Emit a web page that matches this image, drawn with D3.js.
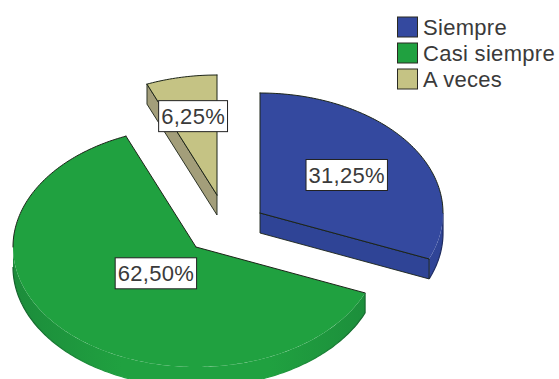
<!DOCTYPE html>
<html>
<head>
<meta charset="utf-8">
<script src="https://cdn.jsdelivr.net/npm/d3@7"></script>
<style>
  html, body { margin: 0; padding: 0; background: #fff; }
  svg { display: block; }
  text { font-family: "Liberation Sans", Arial, sans-serif; fill: #3a3a3a; letter-spacing: 0.3px; }
</style>
</head>
<body>
<svg id="chart" width="559" height="379"></svg>
<script>
// Survey answers and their shares, in percent
const categories = ["Siempre", "Casi siempre", "A veces"];
const shares = [31.25, 62.5, 6.25];
const shareLabels = ["31,25%", "62,50%", "6,25%"];

const topColors = ["#34499f", "#20a140", "#c5c384"];
const sideColors = ["#2f4496", "#1c8c3b", "#a39e7a"];
const rimEdgeColors = ["#1d2a5e", "#14602c", "#5a5640"];
const edgeColor = "#1c2418";

// Projection of the tilted disc
const radiusX = 183, radiusY = 120, depth = 20;

// Apex of each exploded slice
const apexX = [260, 196, 217];
const apexY = [213, 247, 195];
const labelRadius = [0.57, 0.31, 0.67];

const svg = d3.select("#chart");
const defs = svg.append("defs");

const unitX = d3.scaleLinear().domain([-1, 1]).range([-radiusX, radiusX]);
const unitY = d3.scaleLinear().domain([-1, 1]).range([-radiusY, radiusY]);

const slices = d3.pie().sort(null).value(d => d)(shares);
const line = d3.line();

// Project an angle (clockwise from twelve o'clock) onto the disc of slice i
const rimPoint = (i, angle, drop = 0) => [
  apexX[i] + unitX(Math.sin(angle)),
  apexY[i] + unitY(-Math.cos(angle)) + drop
];
const arcAngles = (a, b) => {
  const n = Math.max(2, Math.ceil((b - a) * 60));
  return d3.range(n + 1).map(k => a + (b - a) * k / n);
};

// Horizontal shading: the rim darkens towards both sides of the disc
const rimGradient = (id, i, outer) => {
  const grad = defs.append("linearGradient")
    .attr("id", id)
    .attr("gradientUnits", "userSpaceOnUse")
    .attr("x1", apexX[i] - radiusX).attr("y1", 0)
    .attr("x2", apexX[i] + radiusX).attr("y2", 0);
  [[0, outer], [0.3, topColors[i]], [0.7, topColors[i]], [1, outer]].forEach(([o, c]) =>
    grad.append("stop").attr("offset", o).attr("stop-color", c));
  return `url(#${id})`;
};

const pieGroup = svg.append("g");

slices.forEach((s, i) => {
  const g = pieGroup.append("g");
  const a0 = s.startAngle, a1 = s.endAngle;
  const apex = [apexX[i], apexY[i]];
  const frontStart = Math.PI / 2, frontEnd = Math.PI * 1.5;

  // Outer rim: only the part facing the viewer
  const rimStart = Math.max(a0, frontStart);
  const rimEnd = Math.min(a1, frontEnd);
  if (rimEnd > rimStart) {
    const angles = arcAngles(rimStart, rimEnd);
    const rim = angles.map(a => rimPoint(i, a))
      .concat(angles.slice().reverse().map(a => rimPoint(i, a, depth)));
    g.append("path")
      .attr("d", line(rim) + "Z")
      .attr("fill", rimGradient(`rim-fill-${i}`, i, sideColors[i]));
    const lower = [rimPoint(i, rimStart)].concat(angles.map(a => rimPoint(i, a, depth)));
    g.append("path")
      .attr("d", line(lower))
      .attr("fill", "none")
      .attr("stroke", rimGradient(`rim-edge-${i}`, i, rimEdgeColors[i]))
      .attr("stroke-width", 1.2);
  }

  // Cut faces turned towards the viewer
  const faces = [];
  if (Math.sin(a0) < -1e-6) faces.push(a0);
  if (Math.sin(a1) > 1e-6) faces.push(a1);
  faces.forEach(a => {
    const face = [apex, rimPoint(i, a), rimPoint(i, a, depth), [apex[0], apex[1] + depth]];
    g.append("path")
      .attr("d", line(face) + "Z")
      .attr("fill", sideColors[i])
      .attr("stroke", edgeColor)
      .attr("stroke-width", 0.9);
  });

  // Top surface
  const top = [apex].concat(arcAngles(a0, a1).map(a => rimPoint(i, a)));
  g.append("path")
    .attr("d", line(top) + "Z")
    .attr("fill", topColors[i]);

  // Outline: both cut edges and the far part of the arc; the near arc blends into the rim
  const outlines = [[apex, rimPoint(i, a0)], [apex, rimPoint(i, a1)]];
  if (a0 < frontStart) outlines.push(arcAngles(a0, Math.min(a1, frontStart)).map(a => rimPoint(i, a)));
  if (a1 > frontEnd) outlines.push(arcAngles(Math.max(a0, frontEnd), a1).map(a => rimPoint(i, a)));
  outlines.forEach(pts => g.append("path")
    .attr("d", line(pts))
    .attr("fill", "none")
    .attr("stroke", edgeColor)
    .attr("stroke-width", 1)
    .attr("stroke-linecap", "round"));
});

// Percentage labels in white boxes
slices.forEach((s, i) => {
  const mid = (s.startAngle + s.endAngle) / 2;
  const x = apexX[i] + labelRadius[i] * unitX(Math.sin(mid));
  const y = apexY[i] + labelRadius[i] * unitY(-Math.cos(mid));
  const g = svg.append("g").attr("transform", `translate(${x},${y})`);
  const box = g.append("rect");
  const label = g.append("text")
    .attr("text-anchor", "middle")
    .attr("dy", "0.36em")
    .attr("font-size", 22)
    .text(shareLabels[i]);
  const w = label.node().getComputedTextLength() + 5;
  box.attr("x", -w / 2).attr("y", -15.5).attr("width", w).attr("height", 31)
    .attr("fill", "#fff").attr("stroke", "#222").attr("stroke-width", 1);
});

// Legend
const legendRow = d3.scalePoint().domain(categories).range([27, 79]);
const legend = svg.append("g");
categories.forEach((c, i) => {
  const y = legendRow(c);
  legend.append("rect")
    .attr("x", 397.5).attr("y", y - 10).attr("width", 20).attr("height", 20)
    .attr("fill", topColors[i]).attr("stroke", "#2a2a22").attr("stroke-width", 1);
  legend.append("text")
    .attr("x", 423).attr("y", y).attr("dy", "0.36em")
    .attr("font-size", 22)
    .text(c);
});
</script>
</body>
</html>
